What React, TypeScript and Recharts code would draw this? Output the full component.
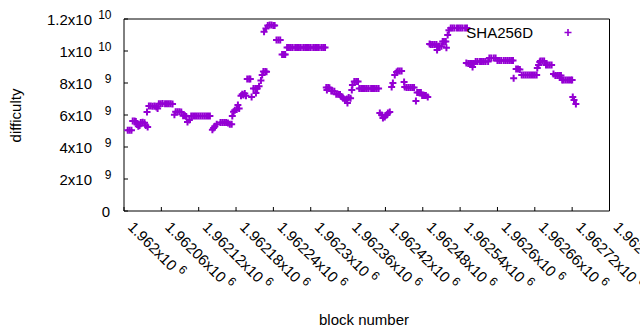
import React from 'react'
import { ScatterChart, Scatter, XAxis, YAxis } from 'recharts'

// SHA256D difficulty per block
const blocks = [
    1962006, 1962009, 1962012, 1962014, 1962017, 1962019, 1962021, 1962023, 1962025, 1962027,
    1962030, 1962033, 1962035, 1962038, 1962037, 1962040, 1962043, 1962046, 1962049, 1962052,
    1962054, 1962056, 1962059, 1962062, 1962066, 1962069, 1962072, 1962075, 1962078, 1962081,
    1962083, 1962086, 1962089, 1962092, 1962095, 1962098, 1962100, 1962102, 1962105, 1962108,
    1962111, 1962114, 1962117, 1962120, 1962123, 1962126, 1962129, 1962132, 1962135, 1962138,
    1962142, 1962144, 1962146, 1962149, 1962155, 1962158, 1962161, 1962164, 1962167, 1962170,
    1962173, 1962174, 1962176, 1962178, 1962181, 1962183, 1962185, 1962188, 1962190, 1962192,
    1962194, 1962196, 1962198, 1962201, 1962203, 1962205, 1962208, 1962211, 1962212, 1962214,
    1962217, 1962220, 1962222, 1962224, 1962227, 1962229, 1962225, 1962228, 1962231, 1962234,
    1962237, 1962240, 1962242, 1962245, 1962248, 1962251, 1962254, 1962257, 1962259, 1962262,
    1962265, 1962268, 1962271, 1962275, 1962278, 1962281, 1962284, 1962288, 1962291, 1962294,
    1962297, 1962300, 1962304, 1962307, 1962310, 1962313, 1962317, 1962320, 1962323, 1962325,
    1962328, 1962330, 1962326, 1962333, 1962335, 1962338, 1962341, 1962344, 1962347, 1962349,
    1962352, 1962355, 1962358, 1962359, 1962361, 1962364, 1962366, 1962367, 1962370, 1962373,
    1962376, 1962378, 1962381, 1962384, 1962387, 1962390, 1962393, 1962397, 1962400, 1962403,
    1962406, 1962409, 1962411, 1962414, 1962416, 1962419, 1962422, 1962424, 1962427, 1962430,
    1962432, 1962435, 1962438, 1962440, 1962443, 1962446, 1962450, 1962451, 1962454, 1962457,
    1962460, 1962463, 1962466, 1962469, 1962471, 1962474, 1962477, 1962479, 1962482, 1962485,
    1962488, 1962491, 1962493, 1962496, 1962499, 1962502, 1962503, 1962505, 1962507, 1962510,
    1962512, 1962514, 1962517, 1962518, 1962520, 1962522, 1962525, 1962528, 1962531, 1962535,
    1962538, 1962541, 1962544, 1962548, 1962551, 1962550, 1962553, 1962556, 1962559, 1962560,
    1962562, 1962565, 1962568, 1962572, 1962575, 1962578, 1962581, 1962585, 1962587, 1962590,
    1962594, 1962597, 1962600, 1962603, 1962606, 1962610, 1962613, 1962616, 1962619, 1962622,
    1962625, 1962626, 1962630, 1962633, 1962636, 1962639, 1962642, 1962645, 1962648, 1962651,
    1962654, 1962657, 1962660, 1962663, 1962664, 1962666, 1962668, 1962669, 1962672, 1962675,
    1962678, 1962681, 1962684, 1962687, 1962690, 1962693, 1962696, 1962699, 1962702, 1962704,
    1962706, 1962709, 1962712, 1962715, 1962718, 1962720, 1962721, 1962723, 1962726,
]

const difficulty = [
    5.05e9, 5.05e9, 5.04e9, 5.62e9, 5.62e9, 5.6e9, 5.4e9, 5.3e9, 5.35e9, 5.53e9,
    5.55e9, 5.52e9, 5.35e9, 5.25e9, 6.19e9, 6.56e9, 6.56e9, 6.55e9, 6.56e9, 6.5e9,
    6.4e9, 6.7e9, 6.7e9, 6.72e9, 6.7e9, 6.7e9, 6.7e9, 6.7e9, 6.68e9, 6.02e9,
    6.2e9, 6.2e9, 6.2e9, 6.18e9, 5.95e9, 5.95e9, 5.9e9, 5.56e9, 5.68e9, 5.93e9,
    5.93e9, 5.93e9, 5.93e9, 5.93e9, 5.93e9, 5.93e9, 5.93e9, 5.93e9, 5.93e9, 5.93e9,
    5.08e9, 5.18e9, 5.3e9, 5.42e9, 5.53e9, 5.53e9, 5.53e9, 5.53e9, 5.5e9, 5.42e9,
    5.42e9, 5.94e9, 6.2e9, 6.3e9, 6.35e9, 6.62e9, 6.4e9, 7.2e9, 7.3e9, 7.25e9,
    7.35e9, 7.2e9, 8.25e9, 8.25e9, 8.25e9, 7.12e9, 7.65e9, 7.65e9, 7.37e9, 7.65e9,
    7.8e9, 8.15e9, 8.5e9, 8.72e9, 8.72e9, 8.7e9, 11.2e9, 11.4e9, 11.6e9, 11.62e9,
    11.62e9, 11.6e9, 11.6e9, 10.69e9, 10.69e9, 10.69e9, 9.78e9, 9.78e9, 9.78e9, 10.22e9,
    10.22e9, 10.22e9, 10.22e9, 10.22e9, 10.22e9, 10.22e9, 10.22e9, 10.22e9, 10.22e9, 10.22e9,
    10.22e9, 10.22e9, 10.22e9, 10.22e9, 10.22e9, 10.22e9, 10.22e9, 10.22e9, 10.22e9, 7.72e9,
    7.72e9, 7.7e9, 7.56e9, 7.5e9, 7.5e9, 7.48e9, 7.3e9, 7.3e9, 7.28e9, 7.15e9,
    7.05e9, 6.95e9, 7.0e9, 6.75e9, 7.1e9, 7.05e9, 7.56e9, 7.87e9, 8.1e9, 8.1e9,
    8.1e9, 7.66e9, 7.66e9, 7.66e9, 7.66e9, 7.66e9, 7.66e9, 7.66e9, 7.66e9, 7.66e9,
    7.66e9, 7.66e9, 6.12e9, 6.0e9, 5.81e9, 5.87e9, 6.0e9, 6.12e9, 6.19e9, 7.75e9,
    8.0e9, 8.5e9, 8.69e9, 8.75e9, 8.75e9, 8.75e9, 8.06e9, 7.75e9, 7.72e9, 7.72e9,
    7.72e9, 7.72e9, 7.72e9, 6.87e9, 7.4e9, 7.4e9, 7.4e9, 7.22e9, 7.22e9, 7.22e9,
    7.12e9, 10.44e9, 10.4e9, 10.4e9, 10.4e9, 10.4e9, 10.06e9, 10.3e9, 10.3e9, 10.3e9,
    10.6e9, 10.6e9, 10.6e9, 10.2e9, 11.0e9, 11.3e9, 11.44e9, 11.44e9, 11.44e9, 11.44e9,
    11.44e9, 11.44e9, 11.44e9, 11.44e9, 11.44e9, 9.25e9, 9.22e9, 9.22e9, 9.22e9, 9.0e9,
    9.22e9, 9.34e9, 9.34e9, 9.34e9, 9.34e9, 9.34e9, 9.34e9, 9.34e9, 9.56e9, 9.56e9,
    9.56e9, 9.56e9, 9.4e9, 9.4e9, 9.4e9, 9.4e9, 9.4e9, 9.4e9, 9.4e9, 9.4e9,
    9.4e9, 8.3e9, 8.88e9, 8.88e9, 8.85e9, 8.5e9, 8.5e9, 8.5e9, 8.5e9, 8.5e9,
    8.5e9, 8.5e9, 8.5e9, 8.5e9, 8.94e9, 9.12e9, 9.31e9, 9.37e9, 9.37e9, 9.37e9,
    9.12e9, 9.12e9, 9.12e9, 9.12e9, 8.56e9, 8.47e9, 8.47e9, 8.47e9, 8.47e9, 8.19e9,
    8.19e9, 8.19e9, 8.19e9, 8.19e9, 8.19e9, 8.19e9, 7.12e9, 6.94e9, 6.69e9,
]

const xTicks = [
    1962000, 1962060, 1962120, 1962180, 1962240, 1962300, 1962360,
    1962420, 1962480, 1962540, 1962600, 1962660, 1962720, 1962780,
]
const yTicks = [0, 2e9, 4e9, 6e9, 8e9, 1e10, 1.2e10]

const seriesName = 'SHA256D'
const COLOR = '#9400d3'
const FONT = '"Liberation Sans", Arial, sans-serif'

const data = blocks.map((b, i) => ({ block: b, difficulty: difficulty[i] }))

function Plus(props: any) {
    const { cx, cy } = props
    if (cx == null || cy == null) return null
    return <path d={`M${cx - 3.5},${cy}h7M${cx},${cy - 3.5}v7`} stroke={COLOR} strokeWidth={2} fill="none" />
}

function XTick({ x, payload }: any) {
    const m = parseFloat((payload.value / 1e6).toFixed(5)).toString()
    const ax = x + 3
    const ay = 228
    return (
        <text x={ax} y={ay} transform={`rotate(45 ${ax} ${ay})`} fontSize={15} fill="#000" fontFamily={FONT}>
            {m}x10<tspan dx={4} dy={-6} fontSize={12}>6</tspan>
        </text>
    )
}

function YTick({ y, payload }: any) {
    const v = payload.value
    if (v === 0) {
        return <text x={110} y={y + 5.5} textAnchor="end" fontSize={15} fill="#000" fontFamily={FONT}>0</text>
    }
    const e = Math.floor(Math.log10(v) + 1e-9)
    const m = parseFloat((v / Math.pow(10, e)).toFixed(2)).toString()
    return (
        <g>
            <text x={92} y={y + 5.5} textAnchor="end" fontSize={15} fill="#000" fontFamily={FONT}>{m}x10</text>
            <text x={111.5} y={y - 0.5} textAnchor="end" fontSize={12} fill="#000" fontFamily={FONT}>{e}</text>
        </g>
    )
}

function XTitle() {
    return <text x={364} y={325} textAnchor="middle" fontSize={15} fill="#000" fontFamily={FONT}>block number</text>
}

function YTitle() {
    return (
        <text x={21} y={115.5} transform="rotate(-90 21 115.5)" textAnchor="middle" fontSize={15} fill="#000" fontFamily={FONT}>
            difficulty
        </text>
    )
}

export default function App() {
    const axisStroke = { stroke: '#000', strokeWidth: 1 }
    return (
        <div style={{ position: 'absolute', left: 0, top: 0, width: 640, height: 330, background: '#fff' }}>
            <ScatterChart width={640} height={330} margin={{ top: 18, right: 29.5, bottom: 0, left: 0 }}>
                <XAxis
                    xAxisId="b"
                    dataKey="block"
                    type="number"
                    domain={[1962000, 1962780]}
                    ticks={xTicks}
                    interval={0}
                    allowDataOverflow
                    height={119}
                    tickSize={-4}
                    tick={<XTick />}
                    axisLine={axisStroke}
                    tickLine={axisStroke}
                    label={<XTitle />}
                />
                <XAxis
                    xAxisId="t"
                    orientation="top"
                    type="number"
                    domain={[1962000, 1962780]}
                    ticks={xTicks}
                    interval={0}
                    allowDataOverflow
                    height={1}
                    tickSize={-4}
                    tick={false}
                    axisLine={axisStroke}
                    tickLine={axisStroke}
                />
                <YAxis
                    yAxisId="l"
                    dataKey="difficulty"
                    type="number"
                    domain={[0, 1.2e10]}
                    ticks={yTicks}
                    interval={0}
                    allowDataOverflow
                    width={124}
                    tickSize={-4}
                    tick={<YTick />}
                    axisLine={axisStroke}
                    tickLine={axisStroke}
                    label={<YTitle />}
                />
                <YAxis
                    yAxisId="r"
                    orientation="right"
                    type="number"
                    domain={[0, 1.2e10]}
                    ticks={yTicks}
                    interval={0}
                    allowDataOverflow
                    width={1}
                    tickSize={-4}
                    tick={false}
                    axisLine={axisStroke}
                    tickLine={axisStroke}
                />
                <Scatter
                    xAxisId="b"
                    yAxisId="l"
                    name={seriesName}
                    data={data}
                    shape={<Plus />}
                    isAnimationActive={false}
                />
            </ScatterChart>
            <svg width={640} height={60} style={{ position: 'absolute', left: 0, top: 0, pointerEvents: 'none' }}>
                <text x={533} y={37.5} textAnchor="end" fontSize={15} fill="#000" fontFamily={FONT}>{seriesName}</text>
                <path d="M564.5,32.5h7M568,29v7" stroke={COLOR} strokeWidth={1.6} />
            </svg>
        </div>
    )
}
